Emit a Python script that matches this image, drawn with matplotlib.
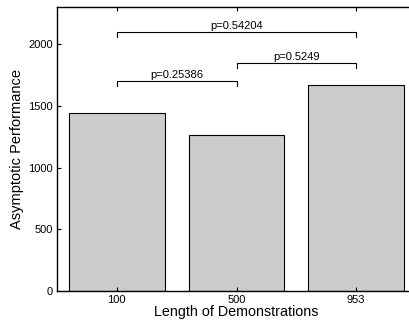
import matplotlib
matplotlib.use("Agg")
import matplotlib.pyplot as plt

categories = ["100", "500", "953"]
values = [1445, 1262, 1672]
comparisons = [(0, 1, 1700, "p=0.25386"), (1, 2, 1850, "p=0.5249"), (0, 2, 2100, "p=0.54204")]

plt.rcParams['font.family'] = ['Liberation Sans', 'DejaVu Sans']

fig = plt.figure(figsize=(4.09, 3.24), dpi=100)
ax = fig.add_axes([57/409, 1-291/324, (416-57)/409, (291-7.3)/324])

x = list(range(1, len(categories) + 1))
ax.bar(x, values, width=0.8, color="#cccccc", edgecolor="black", linewidth=0.8)

ax.set_xlim(0.5, 3.5)
ax.set_ylim(0, 2300)
ax.set_xticks(x)
ax.set_xticklabels(categories)
ax.set_yticks([0, 500, 1000, 1500, 2000])
ax.tick_params(direction="in", length=3, width=0.8, labelsize=8, top=True, right=False, pad=3)
for s in ax.spines.values():
    s.set_linewidth(1.0)
ax.spines["right"].set_visible(False)

drop = 40
for i, j, h, label in comparisons:
    x1, x2 = x[i], x[j]
    ax.plot([x1, x1, x2, x2], [h - drop, h, h, h - drop], color="black", linewidth=0.8)
    ax.text((x1 + x2) / 2, h + 8, label, ha="center", va="bottom", fontsize=8)

ax.set_xlabel("Length of Demonstrations", fontsize=10.3, labelpad=0)
ax.set_ylabel("Asymptotic Performance", fontsize=10.5, labelpad=3)

fig.savefig("out.png", dpi=100)
